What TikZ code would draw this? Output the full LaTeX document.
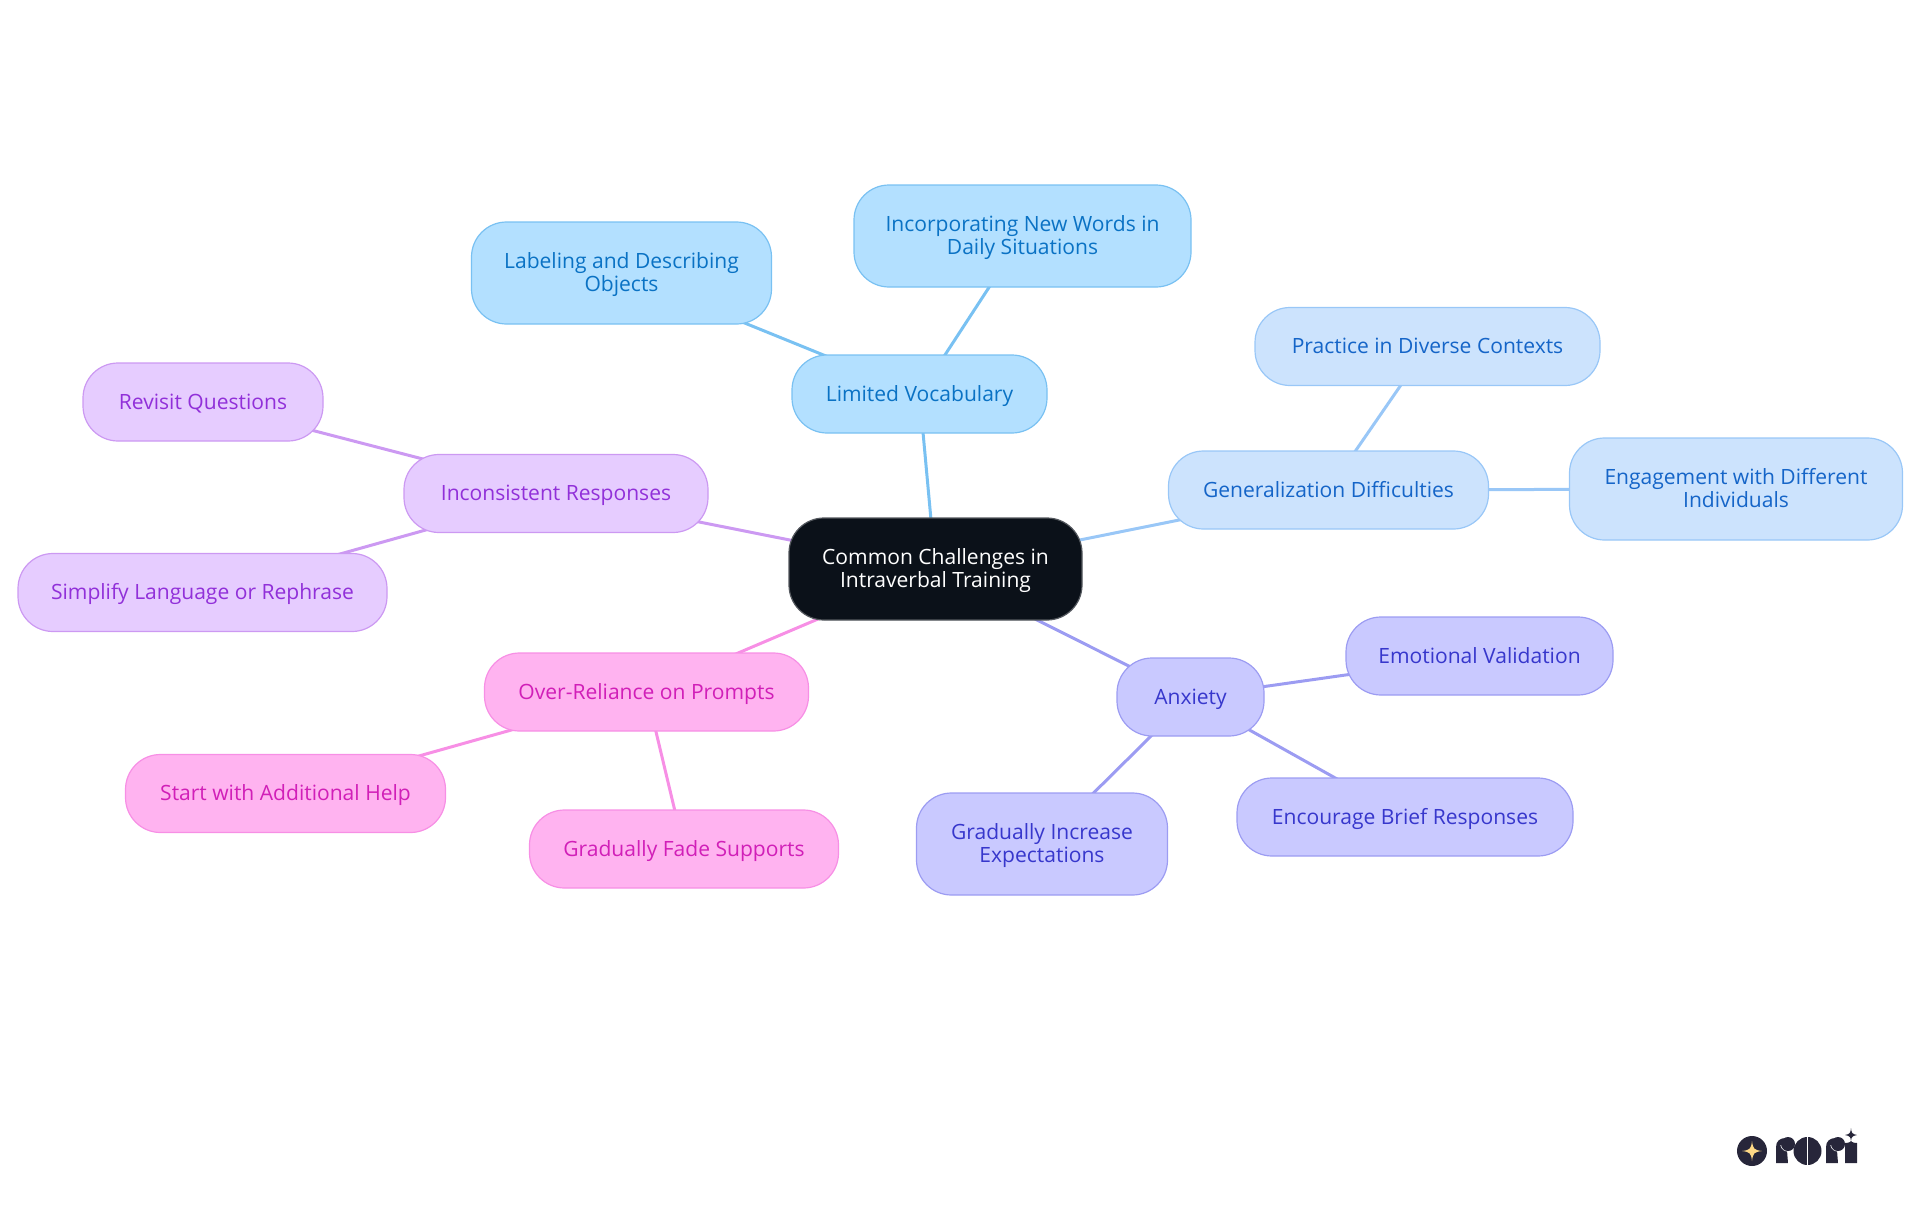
\documentclass[tikz,border=0pt]{standalone}
\usepackage{fontspec}
\usepackage{xcolor}
\setmainfont{Open Sans}
\usetikzlibrary{backgrounds, positioning}

\definecolor{rootfill}{HTML}{0B1119}
\definecolor{skyfill}{HTML}{B3E0FF}
\definecolor{skyline}{HTML}{79C1F2}
\definecolor{skytext}{HTML}{0A72C4}
\definecolor{palefill}{HTML}{CCE3FD}
\definecolor{paleline}{HTML}{99C7F7}
\definecolor{paletext}{HTML}{1565C8}
\definecolor{indigofill}{HTML}{C9C9FF}
\definecolor{indigoline}{HTML}{9C9CF2}
\definecolor{indigotext}{HTML}{3737CC}
\definecolor{pinkfill}{HTML}{FFB3F0}
\definecolor{pinkline}{HTML}{F78FE5}
\definecolor{pinktext}{HTML}{D11FB8}
\definecolor{violetfill}{HTML}{E6CCFF}
\definecolor{violetline}{HTML}{CC99F2}
\definecolor{violettext}{HTML}{9130D9}
\definecolor{logodark}{HTML}{27263A}
\definecolor{logostar}{HTML}{FFD986}

\tikzset{
    chip/.style={draw, line width=1.2pt, rounded corners=35pt, align=center, inner sep=0pt,
        text height=20pt, text depth=6pt, font=\fontsize{21.05}{23}\selectfont},
    twolines/.style={text height=42pt, text depth=6pt},
    rootchip/.style={chip, fill=rootfill, draw=rootfill!70!white, text=white},
    skychip/.style={chip, fill=skyfill, draw=skyline, text=skytext},
    palechip/.style={chip, fill=palefill, draw=paleline, text=paletext},
    indigochip/.style={chip, fill=indigofill, draw=indigoline, text=indigotext},
    pinkchip/.style={chip, fill=pinkfill, draw=pinkline, text=pinktext},
    violetchip/.style={chip, fill=violetfill, draw=violetline, text=violettext},
    link/.style={line width=3pt},
    logocut/.style={draw=white, line width=1.2pt}
}

\begin{document}
\begin{tikzpicture}[x=1pt, y=-1pt]
    \useasboundingbox (0,0) rectangle (1920,1215);

    % Centre
    \node[rootchip, twolines, minimum width=293pt, minimum height=102pt] (root) at (935.5,569) {Common Challenges in\\Intraverbal Training};

    % Limited vocabulary branch
    \node[skychip, minimum width=255pt, minimum height=78pt] (vocab) at (919.5,394) {Limited Vocabulary};
    \node[skychip, twolines, minimum width=300pt, minimum height=102pt] (label) at (621.5,273) {Labeling and Describing\\Objects};
    \node[skychip, twolines, minimum width=337pt, minimum height=102pt] (words) at (1022.5,236) {Incorporating New Words in\\Daily Situations};

    % Generalization branch
    \node[palechip, minimum width=320pt, minimum height=78pt] (general) at (1328.5,490) {Generalization Difficulties};
    \node[palechip, minimum width=345pt, minimum height=78pt] (diverse) at (1427.5,346.5) {Practice in Diverse Contexts};
    \node[palechip, twolines, minimum width=333pt, minimum height=102pt] (engage) at (1736,489) {Engagement with Different\\Individuals};

    % Anxiety branch
    \node[indigochip, minimum width=147pt, minimum height=78pt] (anxiety) at (1190.5,697) {Anxiety};
    \node[indigochip, minimum width=267pt, minimum height=78pt] (valid) at (1479.5,656) {Emotional Validation};
    \node[indigochip, minimum width=336pt, minimum height=78pt] (brief) at (1405,817) {Encourage Brief Responses};
    \node[indigochip, twolines, minimum width=251pt, minimum height=102pt] (expect) at (1042,844) {Gradually Increase\\Expectations};

    % Prompt branch
    \node[pinkchip, minimum width=324pt, minimum height=78pt] (prompt) at (646.5,692) {Over-Reliance on Prompts};
    \node[pinkchip, minimum width=320pt, minimum height=78pt] (help) at (285.5,793.5) {Start with Additional Help};
    \node[pinkchip, minimum width=309pt, minimum height=78pt] (fade) at (684,849) {Gradually Fade Supports};

    % Inconsistent branch
    \node[violetchip, minimum width=304pt, minimum height=78pt] (incons) at (556,493.5) {Inconsistent Responses};
    \node[violetchip, minimum width=240pt, minimum height=78pt] (revisit) at (203,402) {Revisit Questions};
    \node[violetchip, minimum width=369pt, minimum height=78pt] (simple) at (202.5,592.5) {Simplify Language or Rephrase};

    % Links behind the chips
    \begin{scope}[on background layer]
        \foreach \a/\b/\c in {root/vocab/skyline, vocab/label/skyline, vocab/words/skyline,
            root/general/paleline, general/diverse/paleline, general/engage/paleline,
            root/anxiety/indigoline, anxiety/valid/indigoline, anxiety/brief/indigoline, anxiety/expect/indigoline,
            root/prompt/pinkline, prompt/help/pinkline, prompt/fade/pinkline,
            root/incons/violetline, incons/revisit/violetline, incons/simple/violetline} {
            \draw[link, draw=\c] (\a.center) -- (\b.center);
        }
    \end{scope}

    % Logo
    \fill[logodark] (1752,1151) circle (15);
    \fill[logostar] (1752,1141) .. controls (1753,1149) and (1754,1150) .. (1762,1151)
        .. controls (1754,1152) and (1753,1153) .. (1752,1161)
        .. controls (1751,1153) and (1750,1152) .. (1742,1151)
        .. controls (1750,1150) and (1751,1149) .. cycle;
    % r
    \fill[logodark] (1776,1163) -- (1776,1147) .. controls (1776,1141) and (1780,1138) .. (1786,1138) -- (1788,1163) -- cycle;
    \draw[logocut] (1781,1145) .. controls (1781.5,1149) and (1785,1151.5) .. (1790,1151);
    \fill[white] (1788,1151) rectangle (1796,1164);
    \fill[logodark] (1788,1144) circle (7);
    % o
    \fill[logodark] (1807.5,1151) circle (14);
    \fill[white] (1806.8,1136) rectangle (1808.2,1166);
    % r
    \fill[logodark] (1826,1163) -- (1826,1147) .. controls (1826,1141) and (1830,1138) .. (1836,1138) -- (1838,1163) -- cycle;
    \draw[logocut] (1831,1145) .. controls (1831.5,1149) and (1835,1151.5) .. (1840,1151);
    \fill[logodark] (1838,1144) circle (7);
    % i
    \fill[logodark] (1845,1143) .. controls (1850,1143) and (1851,1141) .. (1851,1141)
        .. controls (1851,1141) and (1852,1143) .. (1857,1143) -- (1857,1163) -- (1845,1163) -- cycle;
    \fill[logodark] (1851,1128) .. controls (1851.5,1133) and (1852,1134) .. (1857,1135)
        .. controls (1852,1136) and (1851.5,1137) .. (1851,1141)
        .. controls (1850.5,1137) and (1850,1136) .. (1845,1135)
        .. controls (1850,1134) and (1850.5,1133) .. cycle;
\end{tikzpicture}
\end{document}
